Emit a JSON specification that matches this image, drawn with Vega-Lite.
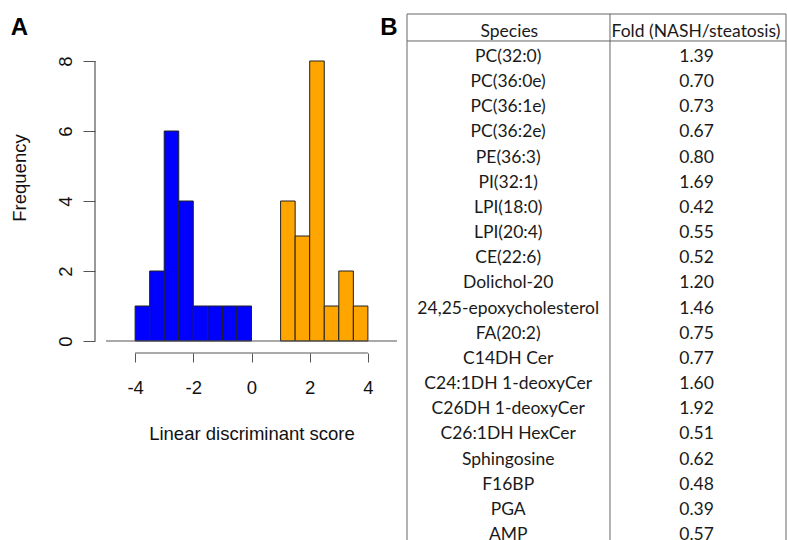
{
  "$schema": "https://vega.github.io/schema/vega-lite/v6.json",
  "padding": {"left": 9, "top": 13, "right": 0, "bottom": 0},
  "bounds": "flush",
  "spacing": 10,
  "config": {"view": {"stroke": null}, "font": "Liberation Sans"},
  "datasets": {
    "hist": [
      {"group": "steatosis", "bin_start": -4, "bin_end": -3.5, "count": 1},
      {"group": "steatosis", "bin_start": -3.5, "bin_end": -3, "count": 2},
      {"group": "steatosis", "bin_start": -3, "bin_end": -2.5, "count": 6},
      {"group": "steatosis", "bin_start": -2.5, "bin_end": -2, "count": 4},
      {"group": "steatosis", "bin_start": -2, "bin_end": -1.5, "count": 1},
      {"group": "steatosis", "bin_start": -1.5, "bin_end": -1, "count": 1},
      {"group": "steatosis", "bin_start": -1, "bin_end": -0.5, "count": 1},
      {"group": "steatosis", "bin_start": -0.5, "bin_end": 0, "count": 1},
      {"group": "NASH", "bin_start": 1, "bin_end": 1.5, "count": 4},
      {"group": "NASH", "bin_start": 1.5, "bin_end": 2, "count": 3},
      {"group": "NASH", "bin_start": 2, "bin_end": 2.5, "count": 8},
      {"group": "NASH", "bin_start": 2.5, "bin_end": 3, "count": 1},
      {"group": "NASH", "bin_start": 3, "bin_end": 3.5, "count": 2},
      {"group": "NASH", "bin_start": 3.5, "bin_end": 4, "count": 1}
    ],
    "table": [
      {"row": 1, "species": "PC(32:0)", "fold": 1.39},
      {"row": 2, "species": "PC(36:0e)", "fold": 0.70},
      {"row": 3, "species": "PC(36:1e)", "fold": 0.73},
      {"row": 4, "species": "PC(36:2e)", "fold": 0.67},
      {"row": 5, "species": "PE(36:3)", "fold": 0.80},
      {"row": 6, "species": "PI(32:1)", "fold": 1.69},
      {"row": 7, "species": "LPI(18:0)", "fold": 0.42},
      {"row": 8, "species": "LPI(20:4)", "fold": 0.55},
      {"row": 9, "species": "CE(22:6)", "fold": 0.52},
      {"row": 10, "species": "Dolichol-20", "fold": 1.20},
      {"row": 11, "species": "24,25-epoxycholesterol", "fold": 1.46},
      {"row": 12, "species": "FA(20:2)", "fold": 0.75},
      {"row": 13, "species": "C14DH Cer", "fold": 0.77},
      {"row": 14, "species": "C24:1DH 1-deoxyCer", "fold": 1.60},
      {"row": 15, "species": "C26DH 1-deoxyCer", "fold": 1.92},
      {"row": 16, "species": "C26:1DH HexCer", "fold": 0.51},
      {"row": 17, "species": "Sphingosine", "fold": 0.62},
      {"row": 18, "species": "F16BP", "fold": 0.48},
      {"row": 19, "species": "PGA", "fold": 0.39},
      {"row": 20, "species": "AMP", "fold": 0.57}
    ],
    "one": [{}]
  },
  "hconcat": [
    {
      "width": 291,
      "height": 327,
      "layer": [
        {
          "data": {"name": "hist"},
          "mark": {"type": "rect", "stroke": "#222222", "strokeWidth": 1},
          "encoding": {
            "x": {
              "field": "bin_start", "type": "quantitative",
              "scale": {"domain": [-5, 5], "nice": false, "zero": false},
              "axis": {
                "values": [-4, -2, 0, 2, 4], "domain": false, "grid": false,
                "offset": 12, "tickSize": 9, "tickColor": "#555555",
                "labelExpr": "'' + datum.value", "labelFontSize": 18.5, "labelColor": "#111111",
                "labelPadding": 16, "labelFlush": false,
                "title": "Linear discriminant score", "titleFontSize": 18.5,
                "titleFontWeight": "normal", "titleColor": "#111111", "titlePadding": 28
              }
            },
            "x2": {"field": "bin_end"},
            "y": {
              "field": "count", "type": "quantitative",
              "scale": {"domain": [0, 9.343], "nice": false, "zero": false},
              "axis": {
                "values": [0, 2, 4, 6, 8], "domain": false, "grid": false,
                "offset": 11, "tickSize": 12, "tickColor": "#555555",
                "labelAngle": 270, "labelAlign": "center", "labelBaseline": "alphabetic",
                "labelFontSize": 18.5, "labelColor": "#111111", "labelPadding": 12,
                "title": "Frequency", "titleFontSize": 18.5, "titleFontWeight": "normal",
                "titleColor": "#111111", "titlePadding": 27
              }
            },
            "y2": {"datum": 0},
            "color": {
              "field": "group", "type": "nominal",
              "scale": {"domain": ["steatosis", "NASH"], "range": ["#0000FF", "#FFA500"]},
              "legend": null
            }
          }
        },
        {
          "data": {"name": "one"},
          "mark": {"type": "rule", "color": "#555555", "strokeWidth": 1.2},
          "encoding": {"x": {"datum": -5}, "x2": {"datum": 5}, "y": {"datum": 0}}
        },
        {
          "data": {"name": "one"},
          "mark": {"type": "rule", "color": "#555555", "strokeWidth": 1.2, "yOffset": 12},
          "encoding": {"x": {"datum": -4}, "x2": {"datum": 4}, "y": {"datum": 0}}
        },
        {
          "data": {"name": "one"},
          "mark": {"type": "rule", "color": "#555555", "strokeWidth": 1.2, "xOffset": -11},
          "encoding": {"x": {"datum": -5}, "y": {"datum": 0}, "y2": {"datum": 8}}
        },
        {
          "data": {"name": "one"},
          "mark": {"type": "text", "text": "A", "font": "Liberation Sans", "fontWeight": "bold", "fontSize": 24, "align": "center", "baseline": "alphabetic", "dx": -86.5, "dy": 21, "color": "#000000"},
          "encoding": {"x": {"datum": -5}, "y": {"datum": 9.343}}
        }
      ]
    },
    {
      "width": 379,
      "height": 526,
      "layer": [
        {
          "data": {"name": "one"},
          "mark": {"type": "rule", "color": "#666666", "strokeWidth": 1},
          "encoding": {
            "x": {"datum": 0, "type": "quantitative", "scale": {"domain": [0, 1], "nice": false, "zero": false}, "axis": null},
            "x2": {"datum": 1},
            "y": {"datum": -0.709, "type": "quantitative", "scale": {"domain": [-0.709, 20.197], "reverse": true, "nice": false, "zero": false}, "axis": null}
          }
        },
        {
          "data": {"name": "one"},
          "mark": {"type": "rule", "color": "#666666", "strokeWidth": 1},
          "encoding": {"x": {"datum": 0}, "x2": {"datum": 1}, "y": {"datum": 0.364}}
        },
        {
          "data": {"name": "one"},
          "mark": {"type": "rule", "color": "#666666", "strokeWidth": 1},
          "encoding": {"x": {"datum": 0}, "y": {"datum": -0.709}, "y2": {"datum": 20.197}}
        },
        {
          "data": {"name": "one"},
          "mark": {"type": "rule", "color": "#666666", "strokeWidth": 1},
          "encoding": {"x": {"datum": 0.5356}, "y": {"datum": -0.709}, "y2": {"datum": 20.197}}
        },
        {
          "data": {"name": "one"},
          "mark": {"type": "rule", "color": "#666666", "strokeWidth": 1},
          "encoding": {"x": {"datum": 1}, "y": {"datum": -0.709}, "y2": {"datum": 20.197}}
        },
        {
          "data": {"name": "one"},
          "mark": {"type": "text", "text": "Species", "font": "Lato", "fontSize": 17.5, "align": "center", "baseline": "middle", "color": "#1a1a1a"},
          "encoding": {"x": {"datum": 0.27}, "y": {"datum": 0}}
        },
        {
          "data": {"name": "one"},
          "mark": {"type": "text", "text": "Fold (NASH/steatosis)", "font": "Lato", "fontSize": 17.5, "align": "center", "baseline": "middle", "color": "#1a1a1a"},
          "encoding": {"x": {"datum": 0.7625}, "y": {"datum": 0}}
        },
        {
          "data": {"name": "table"},
          "mark": {"type": "text", "font": "Lato", "fontSize": 17.5, "align": "center", "baseline": "middle", "color": "#1a1a1a", "clip": true},
          "encoding": {"x": {"datum": 0.267}, "y": {"field": "row", "type": "quantitative"}, "text": {"field": "species"}}
        },
        {
          "data": {"name": "table"},
          "mark": {"type": "text", "font": "Lato", "fontSize": 17.5, "align": "center", "baseline": "middle", "color": "#1a1a1a", "clip": true},
          "encoding": {"x": {"datum": 0.764}, "y": {"field": "row", "type": "quantitative"}, "text": {"field": "fold", "format": ".2f"}}
        },
        {
          "data": {"name": "one"},
          "mark": {"type": "text", "text": "B", "font": "Liberation Sans", "fontWeight": "bold", "fontSize": 24, "align": "center", "baseline": "alphabetic", "dx": -18, "dy": 21, "color": "#000000"},
          "encoding": {"x": {"datum": 0}, "y": {"datum": -0.709}}
        }
      ]
    }
  ]
}
